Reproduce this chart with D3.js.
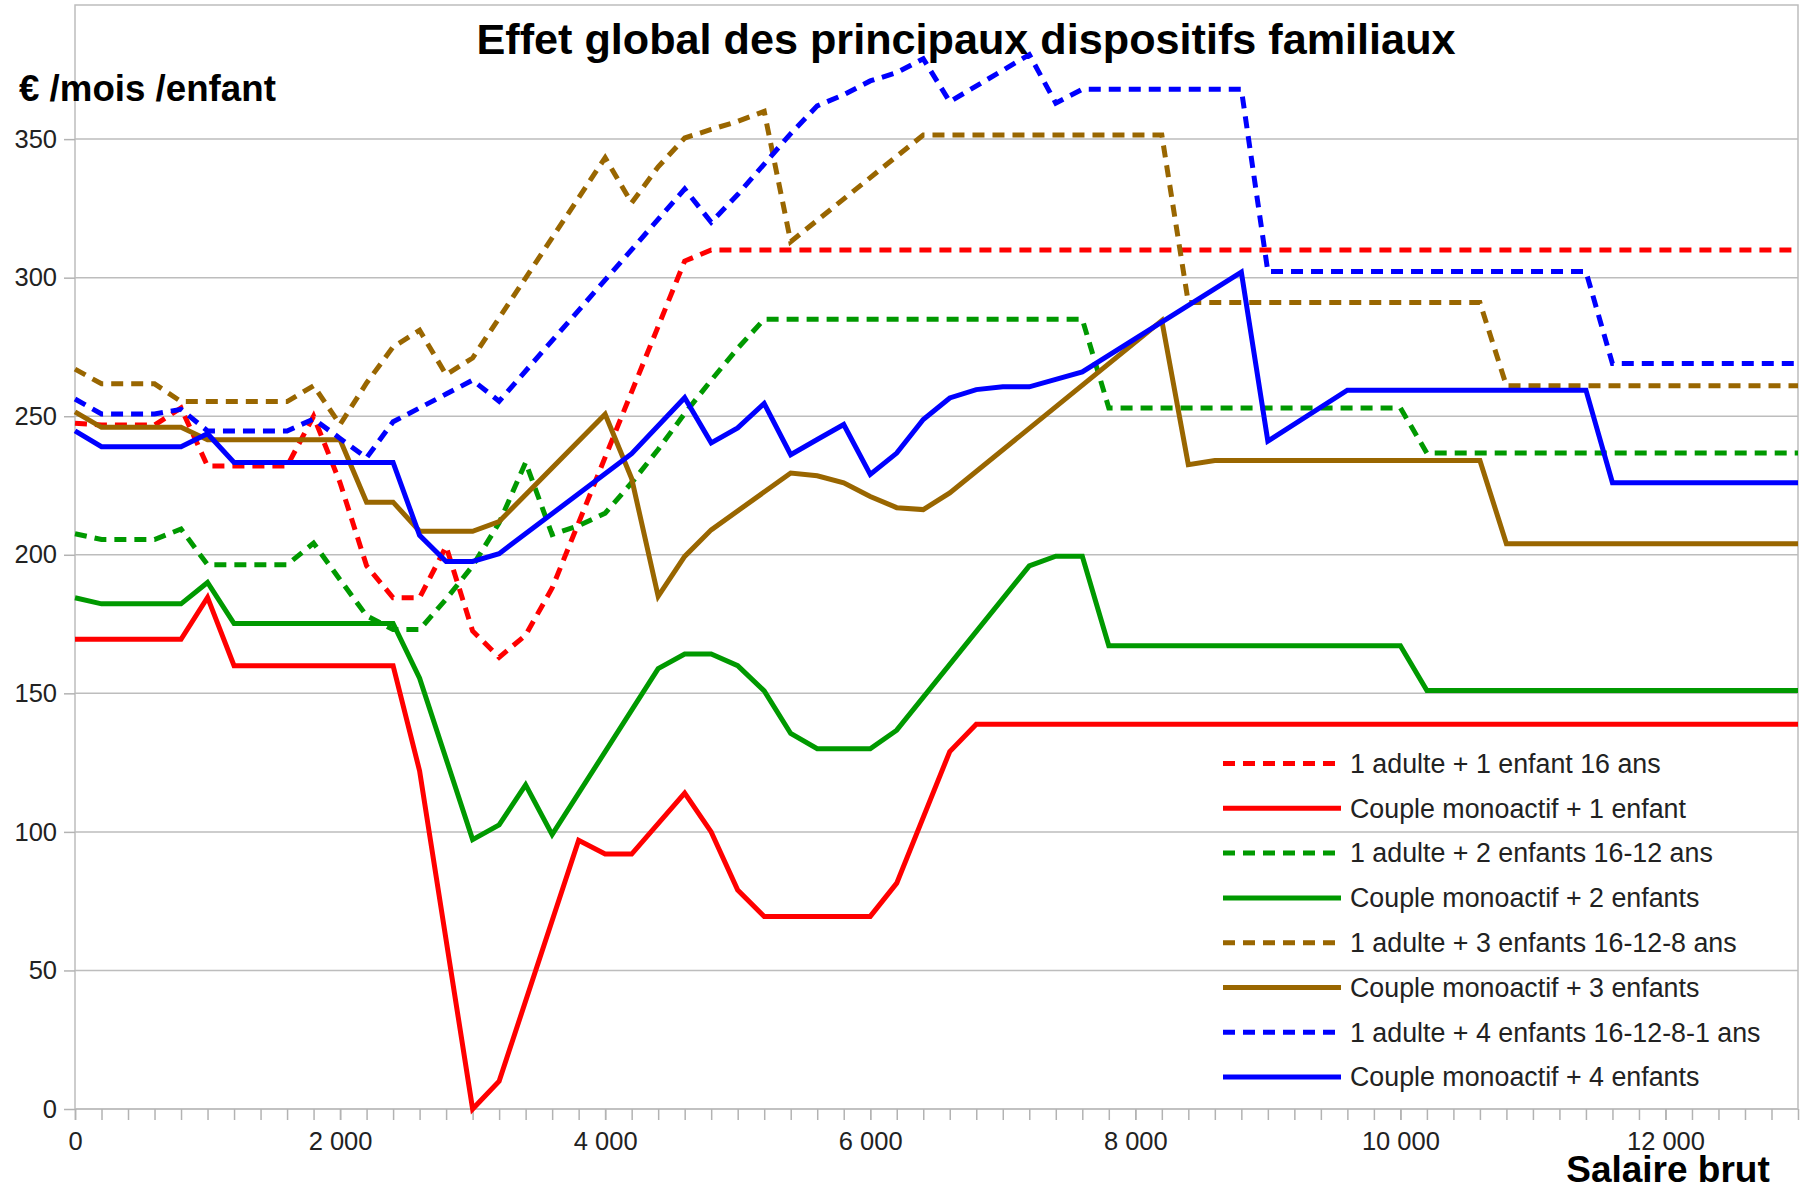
<!DOCTYPE html>
<html>
<head>
<meta charset="utf-8">
<script src="https://cdn.jsdelivr.net/npm/d3@7"></script>
<style>
  body { margin: 0; background: #fff; }
  svg { display: block; font-family: "Liberation Sans", Arial, sans-serif; }
  .axis text { fill: #222; font-size: 25.5px; }
  .axis line, .axis path { stroke: #b3b3b3; stroke-width: 1.5; }
</style>
</head>
<body>
<svg id="chart" width="1800" height="1187"></svg>
<script>
// Salaire brut -> € /mois /enfant, sommets de chaque courbe
var adulte1Enfant = [[0,247.5],[200,246.8],[600,246.8],[800,253],[1000,232],[1600,232],[1800,250],[2000,226],[2200,196],[2400,184.5],[2600,184.5],[2800,203],[3000,172.5],[3200,163],[3400,171],[3600,188],[4600,306],[4800,310],[13000,310]];
var couple1Enfant = [[0,169.5],[800,169.5],[1000,184.6],[1200,160],[2400,160],[2600,122],[3000,0],[3200,10],[3800,97],[4000,92],[4200,92],[4600,114],[4800,100],[5000,79],[5200,69.5],[6000,69.5],[6200,81.5],[6600,129],[6800,138.8],[13000,138.8]];
var adulte2Enfants = [[0,207.6],[200,205.5],[600,205.5],[800,209.3],[1000,196.4],[1600,196.4],[1800,204.2],[2000,191],[2200,178],[2400,173],[2600,173],[2800,184],[3000,196],[3200,211.5],[3400,233.3],[3600,207.3],[3800,210.5],[4000,215],[4200,226],[4400,238],[4600,251],[4800,263],[5000,274.5],[5200,285],[7600,285],[7800,253],[10000,253],[10200,236.7],[13000,236.7]];
var couple2Enfants = [[0,184.5],[200,182.3],[800,182.3],[1000,190],[1200,175.2],[2400,175.2],[2600,155.5],[3000,97.2],[3200,102.5],[3400,117],[3600,99],[4400,158.9],[4600,164.2],[4800,164.2],[5000,160],[5200,150.9],[5400,135.5],[5600,130],[6000,130],[6200,136.7],[7200,196],[7400,199.5],[7600,199.5],[7800,167.2],[10000,167.2],[10200,151],[13000,151]];
var adulte3Enfants = [[0,267],[200,261.7],[600,261.7],[800,255.3],[1600,255.3],[1800,261],[2000,247],[2200,262],[2400,275],[2600,281],[2800,265],[3000,271],[4000,343.3],[4200,327],[4400,340],[4600,350.4],[4800,353.5],[5000,356.4],[5200,360],[5400,313],[6400,351.5],[8200,351.5],[8400,291],[10600,291],[10800,261],[13000,261]];
var couple3Enfants = [[0,251.6],[200,246],[800,246],[1000,241.5],[2000,241.5],[2200,219],[2400,219],[2600,208.5],[3000,208.5],[3200,212],[4000,250.7],[4200,227.5],[4400,185],[4600,199.4],[4800,209],[5400,229.5],[5600,228.5],[5800,226],[6000,221],[6200,217],[6400,216.3],[6600,222.3],[8200,284.5],[8400,232.5],[8600,234],[10600,234],[10800,204],[13000,204]];
var adulte4Enfants = [[0,256.2],[200,250.8],[600,250.8],[800,252.5],[1000,244.7],[1600,244.7],[1800,249],[2000,242],[2200,235],[2400,248],[2600,253],[2800,258],[3000,263],[3200,255.4],[4600,332],[4800,320],[5000,330],[5200,341],[5400,352],[5600,362],[5800,366],[6000,371],[6200,374],[6400,379],[6600,363.5],[7200,380.5],[7400,363],[7600,368],[8800,368],[9000,302.2],[11400,302.2],[11600,269],[13000,269]];
var couple4Enfants = [[0,244.7],[200,239],[800,239],[1000,243.7],[1200,233.3],[2400,233.3],[2600,207],[2800,197.6],[3000,197.6],[3200,200.4],[4200,236.5],[4600,256.7],[4800,240.4],[5000,245.8],[5200,254.6],[5400,236.1],[5600,241.6],[5800,247],[6000,229],[6200,236.7],[6400,248.8],[6600,256.6],[6800,259.6],[7000,260.6],[7200,260.6],[7400,263.3],[7600,266],[8800,302],[9000,241],[9600,259.4],[11400,259.4],[11600,226],[13000,226]];

var serieNoms = ["1 adulte + 1 enfant 16 ans", "Couple monoactif + 1 enfant",
                 "1 adulte + 2 enfants 16-12 ans", "Couple monoactif + 2 enfants",
                 "1 adulte + 3 enfants 16-12-8 ans", "Couple monoactif + 3 enfants",
                 "1 adulte + 4 enfants 16-12-8-1 ans", "Couple monoactif + 4 enfants"];
var serieValeurs = [adulte1Enfant, couple1Enfant, adulte2Enfants, couple2Enfants,
                    adulte3Enfants, couple3Enfants, adulte4Enfants, couple4Enfants];
var yTicks = [0, 50, 100, 150, 200, 250, 300, 350];
var xTicks = [0, 2000, 4000, 6000, 8000, 10000, 12000];

var colors = ["#ff0000", "#ff0000", "#009900", "#009900", "#996600", "#996600", "#0000ff", "#0000ff"];
var dashed = [true, false, true, false, true, false, true, false];

var svg = d3.select("#chart");
var plotLeft = 75, plotRight = 1798, plotTop = 5, plotBottom = 1109;

var x = d3.scaleLinear().domain([0, 13000]).range([plotLeft, plotRight]);
var y = d3.scaleLinear().domain([0, 398.4]).range([plotBottom, plotTop]);

var fr = d3.formatLocale({decimal: ",", thousands: "\u00a0", grouping: [3], currency: ["", " €"]});

svg.append("rect").attr("width", 1800).attr("height", 1187).attr("fill", "#fff");

// grille horizontale
svg.append("g")
    .selectAll("line")
    .data(yTicks)
    .enter()
    .append("line")
    .attr("x1", plotLeft).attr("x2", plotRight)
    .attr("y1", function(d) { return y(d); })
    .attr("y2", function(d) { return y(d); })
    .style("stroke", "#bdbdbd")
    .style("stroke-width", 1.5);

// cadre
svg.append("rect")
    .attr("x", plotLeft).attr("y", plotTop)
    .attr("width", plotRight - plotLeft).attr("height", plotBottom - plotTop)
    .style("fill", "none")
    .style("stroke", "#bdbdbd")
    .style("stroke-width", 1.5);

// axes
svg.append("g")
    .attr("class", "axis")
    .attr("transform", "translate(0," + plotBottom + ")")
    .call(d3.axisBottom(x).tickValues(d3.range(0, 13001, 200)).tickSize(11).tickFormat(""))
    .call(function(g) { g.select(".domain").remove(); });

svg.append("g")
    .attr("class", "axis")
    .attr("transform", "translate(0," + plotBottom + ")")
    .call(d3.axisBottom(x).tickValues(xTicks).tickSize(11).tickPadding(12).tickFormat(fr.format(",d")))
    .call(function(g) { g.select(".domain").remove(); });

svg.append("g")
    .attr("class", "axis")
    .attr("transform", "translate(" + plotLeft + ",0)")
    .call(d3.axisLeft(y).tickValues(yTicks).tickSize(11).tickPadding(7))
    .call(function(g) { g.select(".domain").remove(); });

// courbes
var line = d3.line()
    .x(function(d) { return x(d[0]); })
    .y(function(d) { return y(d[1]); });

svg.append("g")
    .attr("class", "lines")
    .selectAll("path")
    .data(serieValeurs)
    .enter()
    .append("path")
    .attr("d", line)
    .style("fill", "none")
    .style("stroke", function(d, i) { return colors[i]; })
    .style("stroke-width", 5)
    .style("stroke-dasharray", function(d, i) { return dashed[i] ? "12,8" : null; });

// légende
var legend = svg.append("g")
    .selectAll("g")
    .data(serieNoms)
    .enter()
    .append("g")
    .attr("transform", function(d, i) { return "translate(1223," + (763.5 + i * 44.8) + ")"; });

legend.append("line")
    .attr("x1", 0).attr("x2", 118)
    .style("stroke", function(d, i) { return colors[i]; })
    .style("stroke-width", 5)
    .style("stroke-dasharray", function(d, i) { return dashed[i] ? "12,8" : null; });

legend.append("text")
    .attr("x", 127)
    .attr("dy", ".35em")
    .style("font-size", "26.8px")
    .style("fill", "#222")
    .text(function(d) { return d; });

// titres
svg.append("text")
    .attr("x", 966).attr("y", 54)
    .style("text-anchor", "middle")
    .style("font-size", "43.2px")
    .style("font-weight", "bold")
    .text("Effet global des principaux dispositifs familiaux");

svg.append("text")
    .attr("x", 19).attr("y", 101)
    .style("font-size", "36.7px")
    .style("font-weight", "bold")
    .text("€ /mois /enfant");

svg.append("text")
    .attr("x", 1668).attr("y", 1182)
    .style("text-anchor", "middle")
    .style("font-size", "37px")
    .style("font-weight", "bold")
    .text("Salaire brut");
</script>
</body>
</html>
